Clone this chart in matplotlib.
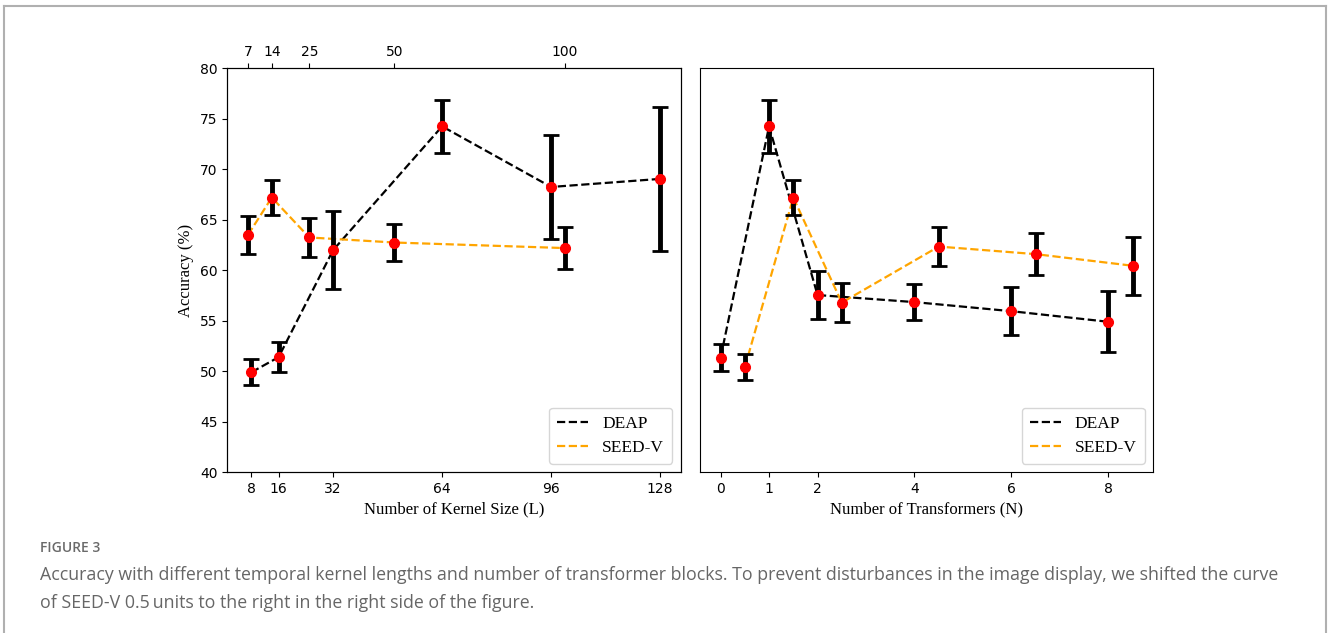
import matplotlib
matplotlib.use("Agg")
import matplotlib.pyplot as plt
from matplotlib.lines import Line2D

# left panel: kernel size
deap_k = [8, 16, 32, 64, 96, 128]
deap_k_acc = [49.9, 51.4, 62.0, 74.25, 68.25, 69.05]
deap_k_err = [1.3, 1.5, 3.9, 2.6, 5.15, 7.1]

seed_k = [7, 14, 25, 50, 100]
seed_k_acc = [63.5, 67.2, 63.25, 62.75, 62.2]
seed_k_err = [1.9, 1.7, 1.9, 1.8, 2.05]

bottom_ticks = [8, 16, 32, 64, 96, 128]
top_ticks = [7, 14, 25, 50, 100]

# right panel: number of transformers (SEED-V shifted by 0.5)
deap_n = [0, 1, 2, 4, 6, 8]
deap_n_acc = [51.35, 74.25, 57.55, 56.85, 55.95, 54.9]
deap_n_err = [1.35, 2.6, 2.4, 1.75, 2.4, 3.0]

seed_n = [0.5, 1.5, 2.5, 4.5, 6.5, 8.5]
seed_n_acc = [50.4, 67.2, 56.8, 62.35, 61.6, 60.45]
seed_n_err = [1.27, 1.7, 1.9, 1.95, 2.1, 2.85]

n_ticks = [0, 1, 2, 4, 6, 8]

serif = "Liberation Serif"
eb = dict(fmt="o", color="red", ecolor="black", elinewidth=3.5,
          capsize=6, capthick=2, markersize=7, zorder=3)
leg = dict(loc="lower right", prop={"family": serif, "size": 12.5},
           handlelength=1.8, borderpad=0.45, labelspacing=0.45)

fig = plt.figure(figsize=(13.28, 6.33), dpi=100)

# outer frame of the figure box
for xs, ys in [([0.003, 0.003], [0.0, 0.9905]),
               ([0.003, 0.9985], [0.9905, 0.9905]),
               ([0.9985, 0.9985], [0.0, 0.9905])]:
    fig.add_artist(Line2D(xs, ys, color="#b0b0b0", lw=1.5))

ax1 = fig.add_axes([0.1712, 0.2539, 0.3414, 0.6382])
ax2 = fig.add_axes([0.5271, 0.2539, 0.3413, 0.6382])

# left
ax1.plot(deap_k, deap_k_acc, "--", color="black", lw=1.6, label="DEAP")
ax1.plot(seed_k, seed_k_acc, "--", color="orange", lw=1.6, label="SEED-V")
ax1.errorbar(deap_k, deap_k_acc, yerr=deap_k_err, **eb)
ax1.errorbar(seed_k, seed_k_acc, yerr=seed_k_err, **eb)
ax1.set_ylim(40, 80)
ax1.set_xticks(bottom_ticks)
ax1.tick_params(labelsize=10)
ax1.set_ylabel("Accuracy (%)", family=serif, fontsize=12)
ax1.set_xlabel("Number of Kernel Size (L)", family=serif, fontsize=12)
ax1.legend(**leg)

top = ax1.twiny()
top.set_xlim(ax1.get_xlim())
top.set_xticks(top_ticks)
top.tick_params(labelsize=10)

# right
ax2.plot(deap_n, deap_n_acc, "--", color="black", lw=1.6, label="DEAP")
ax2.plot(seed_n, seed_n_acc, "--", color="orange", lw=1.6, label="SEED-V")
ax2.errorbar(deap_n, deap_n_acc, yerr=deap_n_err, **eb)
ax2.errorbar(seed_n, seed_n_acc, yerr=seed_n_err, **eb)
ax2.set_ylim(40, 80)
ax2.set_yticks([])
ax2.set_xticks(n_ticks)
ax2.tick_params(labelsize=10)
ax2.set_xlabel("Number of Transformers (N)", family=serif, fontsize=12)
ax2.legend(**leg)

# caption
fig.text(0.030, 0.134, "FIGURE 3", family="Open Sans", fontsize=10,
         weight="semibold", color="#6a6a6a", va="center")
fig.text(0.030, 0.091,
         "Accuracy with different temporal kernel lengths and number of transformer blocks. "
         "To prevent disturbances in the image display, we shifted the curve",
         family="Open Sans", fontsize=12.8, color="#666666", va="center")
fig.text(0.030, 0.048,
         "of SEED-V 0.5\u2009units to the right in the right side of the figure.",
         family="Open Sans", fontsize=12.8, color="#666666", va="center")

fig.savefig("out.png", dpi=100)
